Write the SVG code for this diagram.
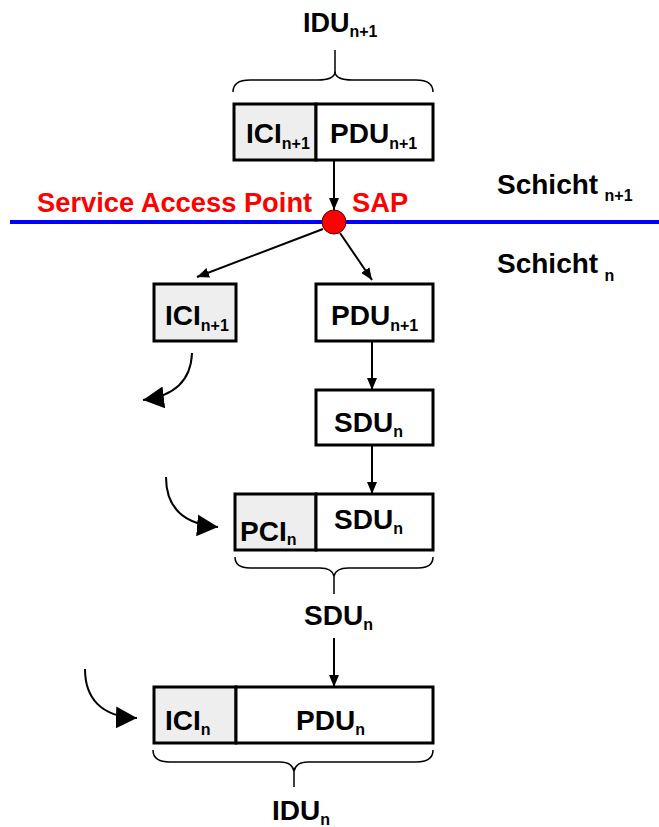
<svg xmlns="http://www.w3.org/2000/svg" width="659" height="827" viewBox="0 0 659 827">
<style>
.box{fill:#fff;stroke:#000;stroke-width:3}
.gray{fill:#eeeeee;stroke:#000;stroke-width:3}
.lbl{font-family:"Liberation Sans",Arial,sans-serif;font-weight:bold;font-size:28px;fill:#000}
.sub{font-size:16px}
.con{fill:none;stroke:#000;stroke-width:2}
.brace{fill:none;stroke:#000;stroke-width:1.5}
.red{fill:#ff0000}
</style>
<defs>
<marker id="arr" markerUnits="userSpaceOnUse" markerWidth="12" markerHeight="10" refX="12" refY="5" orient="auto"><path d="M0,0 L12,5 L0,10 z" fill="#000"/></marker>
<marker id="big" markerUnits="userSpaceOnUse" markerWidth="21" markerHeight="22" refX="21" refY="11" orient="auto"><path d="M0,0 L21,11 L0,22 z" fill="#000"/></marker>
</defs>
<rect width="659" height="827" fill="#fff"/>

<g id="layer-line">
<line x1="10" y1="222" x2="659" y2="222" stroke="#0000ff" stroke-width="4"/>
</g>

<g id="labels">
<text class="lbl" x="303" y="32" style="font-size:27px">IDU<tspan class="sub" dy="5">n+1</tspan></text>
<text class="lbl red" x="37" y="212" style="font-size:27.3px">Service Access Point</text>
<text class="lbl red" x="352" y="212" style="font-size:27.3px">SAP</text>
<text class="lbl" x="497" y="194" style="font-size:28px">Schicht<tspan class="sub" dx="2" dy="7"> n+1</tspan></text>
<text class="lbl" x="497" y="273" style="font-size:28px">Schicht<tspan class="sub" dx="2" dy="8"> n</tspan></text>
<text class="lbl" x="304" y="625">SDU<tspan class="sub" dy="5">n</tspan></text>
<text class="lbl" x="272" y="820">IDU<tspan class="sub" dy="5">n</tspan></text>
</g>

<g id="connectors">
<path class="brace" d="M233,92 Q233,80 250,80 L318,80 Q333,80 335,73 Q337,80 352,80 L416,80 Q433,80 433,92"/>
<line class="brace" x1="335" y1="50" x2="335" y2="73"/>
<line class="con" x1="334" y1="161" x2="334" y2="210" marker-end="url(#arr)"/>
<line class="con" x1="323" y1="229" x2="197" y2="277" marker-end="url(#arr)"/>
<line class="con" x1="340" y1="233" x2="372" y2="280" marker-end="url(#arr)"/>
<line class="con" x1="372" y1="341" x2="372" y2="390" marker-end="url(#arr)"/>
<line class="con" x1="372" y1="445" x2="372" y2="494" marker-end="url(#arr)"/>
<path class="brace" d="M235,557 Q235,568 250,568 L320,568 Q332,568 334,576 Q336,568 348,568 L418,568 Q433,568 433,557"/>
<line class="brace" x1="334" y1="576" x2="334" y2="594"/>
<line class="con" x1="334" y1="638" x2="334" y2="687" marker-end="url(#arr)"/>
<path class="brace" d="M153,750 Q153,762 170,762 L280,762 Q292,762 294,771 Q296,762 308,762 L416,762 Q433,762 433,750"/>
<line class="brace" x1="294" y1="771" x2="294" y2="787"/>
<path class="con" d="M192,353 C191,380 175,396 143,400" marker-end="url(#big)"/>
<path class="con" d="M166,477 C166,505 180,524 218,527" marker-end="url(#big)"/>
<path class="con" d="M85,669 C85,697 100,717 137,718" marker-end="url(#big)"/>
</g>

<g id="sap">
<circle cx="334" cy="222" r="12" fill="#ff0000" stroke="#600000" stroke-width="1"/>
</g>

<g id="idu-top">
<rect class="gray" x="234" y="104" width="82" height="56"/>
<rect class="box" x="316" y="104" width="117" height="56"/>
<text class="lbl" x="246" y="143">ICI<tspan class="sub" dy="6">n+1</tspan></text>
<text class="lbl" x="330" y="143">PDU<tspan class="sub" dy="6">n+1</tspan></text>
</g>

<g id="ici-mid">
<rect class="gray" x="154" y="284" width="82" height="57"/>
<text class="lbl" x="165" y="325">ICI<tspan class="sub" dy="6">n+1</tspan></text>
</g>

<g id="pdu-mid">
<rect class="box" x="316" y="284" width="117" height="57"/>
<text class="lbl" x="331" y="325">PDU<tspan class="sub" dy="6">n+1</tspan></text>
</g>

<g id="sdu-mid">
<rect class="box" x="316" y="390" width="117" height="55"/>
<text class="lbl" x="334" y="432">SDU<tspan class="sub" dy="5">n</tspan></text>
</g>

<g id="pci-sdu">
<rect class="gray" x="235" y="494" width="81" height="56"/>
<rect class="box" x="316" y="494" width="117" height="56"/>
<text class="lbl" x="240" y="541">PCI<tspan class="sub" dy="4">n</tspan></text>
<text class="lbl" x="334" y="529">SDU<tspan class="sub" dy="5">n</tspan></text>
</g>

<g id="idu-bottom">
<rect class="gray" x="154" y="687" width="82" height="56"/>
<rect class="box" x="236" y="687" width="197" height="56"/>
<text class="lbl" x="165" y="730">ICI<tspan class="sub" dy="5">n</tspan></text>
<text class="lbl" x="296" y="730">PDU<tspan class="sub" dy="5">n</tspan></text>
</g>
</svg>
